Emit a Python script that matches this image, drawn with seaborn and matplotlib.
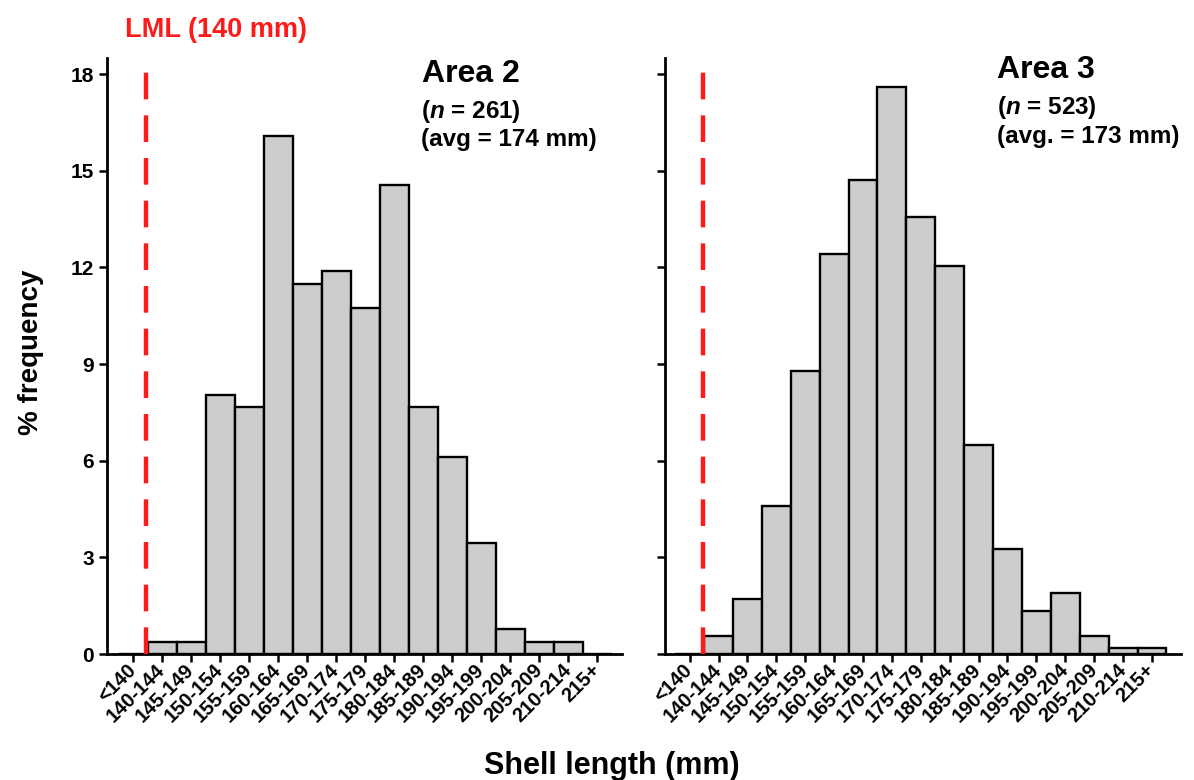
import pandas as pd
import seaborn as sns
import matplotlib.pyplot as plt

# Size classes (shell length, mm)
size_classes = ['<140', '140-144', '145-149', '150-154', '155-159', '160-164',
                '165-169', '170-174', '175-179', '180-184', '185-189', '190-194',
                '195-199', '200-204', '205-209', '210-214', '215+']

# % frequency per size class
area2_pct = [0.0, 0.38, 0.38, 8.05, 7.66, 16.09, 11.49, 11.88, 10.73, 14.56,
             7.66, 6.13, 3.45, 0.77, 0.38, 0.38, 0.0]
area3_pct = [0.0, 0.57, 1.72, 4.59, 8.80, 12.43, 14.72, 17.59, 13.58, 12.05,
             6.50, 3.25, 1.34, 1.91, 0.57, 0.19, 0.19]

panel_titles = ['Area 2', 'Area 3']
panel_n = ['($n$ = 261)', '($n$ = 523)']
panel_avg = ['(avg = 174 mm)', '(avg. = 173 mm)']
y_ticks = [0, 3, 6, 9, 12, 15, 18]

sns.set_style('ticks')
plt.rcParams['font.family'] = ['Liberation Sans', 'DejaVu Sans']
plt.rcParams['font.weight'] = 'bold'
plt.rcParams['text.color'] = 'black'
plt.rcParams['xtick.color'] = 'black'
plt.rcParams['ytick.color'] = 'black'
plt.rcParams['mathtext.fontset'] = 'custom'
plt.rcParams['mathtext.it'] = 'Liberation Sans:italic:bold'
plt.rcParams['mathtext.rm'] = 'Liberation Sans:bold'

W, H = 1194, 780
fig = plt.figure(figsize=(W / 100, H / 100), dpi=100)
ax1 = fig.add_axes([0.0896, 0.1615, 0.4313, 0.764])
ax2 = fig.add_axes([0.557, 0.1615, 0.432, 0.764])

df2 = pd.DataFrame({'size': size_classes, 'pct': area2_pct})
df3 = pd.DataFrame({'size': size_classes, 'pct': area3_pct})

for ax, df in zip([ax1, ax2], [df2, df3]):
    sns.barplot(data=df, x='size', y='pct', ax=ax, color='#cccccc', saturation=1,
                edgecolor='black', linewidth=1.7, width=1.0, zorder=2)
    ax.set_ylim(0, 18.5)
    ax.set_yticks(y_ticks)
    ax.set_xlabel('')
    ax.set_ylabel('')
    # LML line at the 140 mm class boundary
    ax.axvline(0.45, color='#ff1a1a', linestyle=(0, (6, 3.6)), linewidth=3.2, zorder=3)
    ax.tick_params(axis='both', direction='out', length=6, width=1.8, color='black')
    ax.set_xticks(range(len(size_classes)))
    ax.set_xticklabels(size_classes, rotation=45, ha='right', va='center',
                       rotation_mode='anchor', fontsize=14.5, fontweight='bold')
    for lab in ax.get_yticklabels():
        lab.set_fontsize(15)
        lab.set_fontweight('bold')
    for side in ['top', 'right']:
        ax.spines[side].set_visible(False)
    for side in ['left', 'bottom']:
        ax.spines[side].set_linewidth(2)
        ax.spines[side].set_color('black')

ax1.set_xlim(-0.9, 16.85)
ax2.set_xlim(-0.85, 17.0)
ax2.set_yticklabels([])

# panel annotations (pixel positions -> figure fractions)
def put(x, y, s, size, **kw):
    fig.text(x / W, 1 - y / H, s, fontsize=size, fontweight='bold', va='baseline', **kw)

put(422, 82, panel_titles[0], 23)
put(421, 118, panel_n[0], 17.5)
put(421, 146, panel_avg[0], 17.5)
put(997, 78, panel_titles[1], 23)
put(997, 114, panel_n[1], 17.5)
put(997, 143, panel_avg[1], 17.5)

put(125, 37, 'LML (140 mm)', 19.5, color='#ff1a1a')
fig.text(0.026, 1 - 352 / H, '% frequency', rotation=90, fontsize=20, fontweight='bold',
         va='center', ha='center')
put(612, 774, 'Shell length (mm)', 22, ha='center')

plt.savefig('out.png', dpi=100)
